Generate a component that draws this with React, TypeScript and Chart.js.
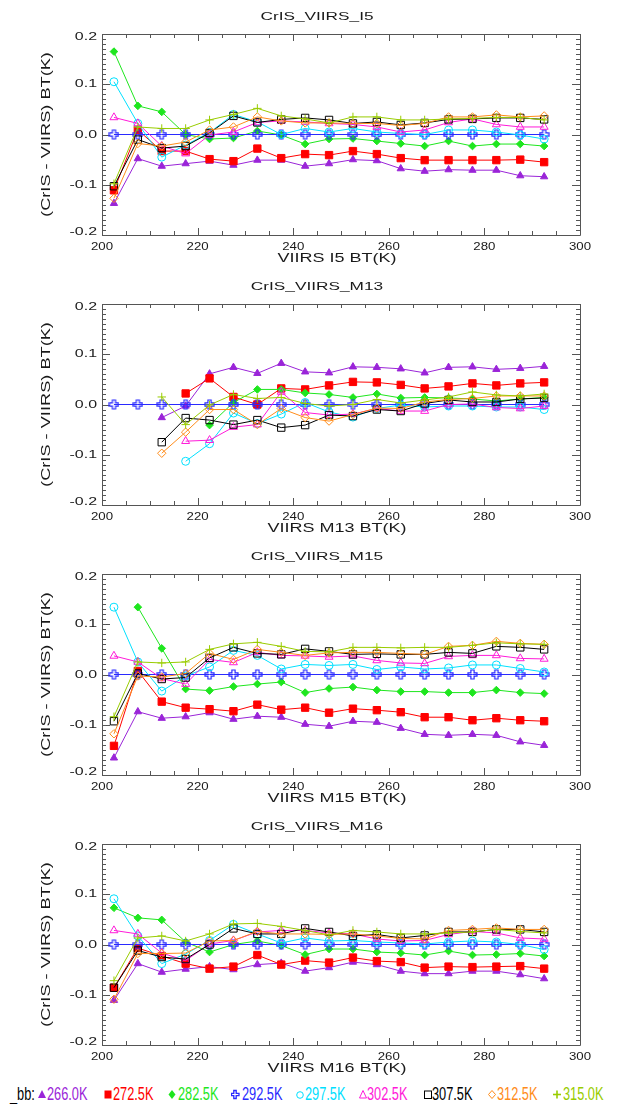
import React, { useEffect, useRef } from 'react';
import { Chart, registerables } from 'chart.js';

Chart.register(...registerables);

// ---------------- DATA ----------------
const BT = [202.5, 207.5, 212.5, 217.5, 222.5, 227.5, 232.5, 237.5, 242.5, 247.5, 252.5, 257.5, 262.5, 267.5, 272.5, 277.5, 282.5, 287.5, 292.5];

const BB_LABELS = ['266.0K', '272.5K', '282.5K', '292.5K', '297.5K', '302.5K', '307.5K', '312.5K', '315.0K'];
const BB_COLORS = ['#9a24d8', '#ff0000', '#1ee61e', '#2a2aff', '#00e0ff', '#ff1ad9', '#000000', '#ff8c1a', '#99cc00'];

const X_TICKS = [200, 220, 240, 260, 280, 300];
const Y_TICKS = [-0.2, -0.1, 0.0, 0.1, 0.2];

const PANEL_TITLES = ['CrIS_VIIRS_I5', 'CrIS_VIIRS_M13', 'CrIS_VIIRS_M15', 'CrIS_VIIRS_M16'];
const X_TITLES = ['VIIRS I5 BT(K)', 'VIIRS M13 BT(K)', 'VIIRS M15 BT(K)', 'VIIRS M16 BT(K)'];
const Y_TITLE = '(CrIS - VIIRS) BT(K)';
const LEGEND_PREFIX = '_bb:';

// I5
const I5_266 = [-0.137, -0.048, -0.063, -0.058, -0.053, -0.061, -0.051, -0.051, -0.063, -0.058, -0.050, -0.052, -0.068, -0.073, -0.070, -0.071, -0.071, -0.082, -0.084];
const I5_272 = [-0.111, 0.009, -0.033, -0.033, -0.049, -0.053, -0.028, -0.047, -0.039, -0.041, -0.033, -0.039, -0.047, -0.051, -0.051, -0.051, -0.051, -0.050, -0.055];
const I5_282 = [0.165, 0.057, 0.045, 0.000, -0.009, -0.007, 0.007, -0.001, -0.019, -0.009, -0.008, -0.013, -0.018, -0.023, -0.013, -0.023, -0.019, -0.019, -0.023];
const I5_292 = [0, 0, 0, 0, 0, 0, 0, 0, 0, 0, 0, 0, 0, 0, 0, 0, 0, 0, 0];
const I5_297 = [0.105, 0.022, -0.045, -0.021, 0.004, 0.040, 0.025, 0.000, 0.012, 0.005, 0.012, 0.005, 0.002, 0.000, 0.009, 0.009, 0.005, -0.001, -0.009];
const I5_302 = [0.034, 0.022, -0.023, -0.038, -0.001, 0.005, 0.024, 0.027, 0.025, 0.022, 0.020, 0.015, 0.005, 0.009, 0.024, 0.031, 0.020, 0.015, 0.015];
const I5_307 = [-0.103, -0.010, -0.027, -0.023, 0.003, 0.037, 0.024, 0.030, 0.033, 0.029, 0.022, 0.025, 0.019, 0.023, 0.030, 0.031, 0.033, 0.033, 0.030];
const I5_312 = [-0.127, -0.018, -0.023, -0.015, 0.009, 0.015, 0.035, 0.027, 0.023, 0.023, 0.022, 0.022, 0.018, 0.022, 0.035, 0.035, 0.039, 0.035, 0.037];
const I5_315 = [-0.098, 0.015, 0.012, 0.012, 0.029, 0.040, 0.052, 0.037, 0.031, 0.023, 0.035, 0.035, 0.029, 0.029, 0.031, 0.032, 0.034, 0.034, 0.029];

// M13
const M13_266 = [null, null, -0.026, -0.003, 0.061, 0.074, 0.062, 0.082, 0.065, 0.063, 0.075, 0.074, 0.071, 0.063, 0.074, 0.075, 0.070, 0.072, 0.076];
const M13_272 = [null, null, null, 0.022, 0.052, 0.015, 0.000, 0.032, 0.030, 0.038, 0.045, 0.044, 0.039, 0.032, 0.036, 0.042, 0.038, 0.042, 0.044];
const M13_282 = [null, null, null, null, -0.041, 0.004, 0.030, 0.030, 0.023, 0.020, 0.014, 0.021, 0.013, 0.014, 0.013, 0.011, 0.007, 0.011, 0.014];
const M13_292 = [0, 0, 0, 0, 0, 0, 0, 0, 0, 0, 0, 0, 0, 0, 0, 0, 0, 0, 0];
const M13_297 = [null, null, null, -0.113, -0.078, -0.017, -0.038, -0.019, 0.004, -0.015, -0.025, -0.008, -0.001, -0.005, -0.003, -0.003, -0.005, -0.005, -0.010];
const M13_302 = [null, null, null, -0.073, -0.071, -0.045, -0.040, 0.025, -0.016, -0.021, -0.019, -0.008, -0.013, -0.013, 0.000, 0.001, -0.006, -0.008, -0.003];
const M13_307 = [null, null, -0.075, -0.027, -0.031, -0.040, -0.031, -0.046, -0.041, -0.021, -0.023, -0.010, -0.013, 0.002, 0.009, 0.005, 0.005, 0.011, 0.013];
const M13_312 = [null, null, -0.097, -0.055, -0.010, -0.010, -0.040, -0.008, -0.026, -0.033, -0.020, -0.007, -0.008, 0.005, 0.010, 0.012, 0.017, 0.017, 0.017];
const M13_315 = [null, null, 0.015, -0.040, -0.001, 0.020, 0.012, 0.014, 0.002, -0.003, 0.000, 0.010, 0.003, 0.009, 0.015, 0.025, 0.019, 0.017, 0.021];

// M15
const M15_266 = [-0.166, -0.074, -0.087, -0.084, -0.076, -0.089, -0.083, -0.085, -0.099, -0.103, -0.093, -0.095, -0.107, -0.119, -0.121, -0.119, -0.121, -0.134, -0.141];
const M15_272 = [-0.142, 0.007, -0.054, -0.066, -0.069, -0.073, -0.060, -0.070, -0.066, -0.076, -0.068, -0.071, -0.075, -0.085, -0.085, -0.091, -0.087, -0.091, -0.093];
const M15_282 = [null, 0.134, 0.052, -0.029, -0.032, -0.024, -0.019, -0.015, -0.036, -0.028, -0.025, -0.031, -0.034, -0.034, -0.036, -0.036, -0.031, -0.036, -0.038];
const M15_292 = [0, 0, 0, 0, 0, 0, 0, 0, 0, 0, 0, 0, 0, 0, 0, 0, 0, 0, 0];
const M15_297 = [0.134, 0.025, -0.033, -0.003, 0.015, 0.048, 0.038, 0.011, 0.020, 0.018, 0.020, 0.010, 0.015, 0.011, 0.013, 0.019, 0.019, 0.012, 0.005];
const M15_302 = [0.037, 0.025, -0.008, -0.019, 0.030, 0.024, 0.044, 0.038, 0.037, 0.035, 0.037, 0.028, 0.023, 0.022, 0.036, 0.038, 0.038, 0.032, 0.031];
const M15_307 = [-0.093, 0.002, -0.009, -0.006, 0.033, 0.054, 0.042, 0.040, 0.051, 0.046, 0.040, 0.041, 0.040, 0.040, 0.044, 0.042, 0.056, 0.054, 0.050];
const M15_312 = [-0.118, -0.003, -0.005, 0.002, 0.042, 0.030, 0.050, 0.044, 0.038, 0.043, 0.044, 0.044, 0.042, 0.040, 0.056, 0.058, 0.066, 0.062, 0.060];
const M15_315 = [-0.084, 0.025, 0.023, 0.025, 0.050, 0.061, 0.064, 0.056, 0.046, 0.045, 0.054, 0.054, 0.053, 0.054, 0.054, 0.058, 0.063, 0.061, 0.060];

// M16
const M16_266 = [-0.111, -0.038, -0.055, -0.049, -0.044, -0.050, -0.040, -0.037, -0.053, -0.046, -0.035, -0.040, -0.053, -0.058, -0.058, -0.053, -0.053, -0.060, -0.068];
const M16_272 = [-0.086, -0.007, -0.023, -0.038, -0.048, -0.044, -0.021, -0.040, -0.032, -0.036, -0.026, -0.033, -0.035, -0.046, -0.044, -0.045, -0.044, -0.043, -0.048];
const M16_282 = [0.073, 0.053, 0.049, 0.005, -0.015, 0.000, 0.007, -0.002, -0.020, -0.009, -0.009, -0.015, -0.017, -0.021, -0.013, -0.021, -0.020, -0.018, -0.023];
const M16_292 = [0, 0, 0, 0, 0, 0, 0, 0, 0, 0, 0, 0, 0, 0, 0, 0, 0, 0, 0];
const M16_297 = [0.091, 0.017, -0.038, -0.019, 0.008, 0.040, 0.021, 0.003, 0.013, 0.007, 0.008, 0.005, 0.003, 0.001, 0.005, 0.007, 0.005, 0.000, -0.010];
const M16_302 = [0.028, 0.021, -0.017, -0.032, 0.001, 0.008, 0.025, 0.028, 0.028, 0.023, 0.021, 0.011, 0.007, 0.008, 0.020, 0.026, 0.023, 0.013, 0.011];
const M16_307 = [-0.086, -0.012, -0.025, -0.029, 0.000, 0.032, 0.021, 0.021, 0.032, 0.025, 0.017, 0.020, 0.013, 0.018, 0.025, 0.025, 0.030, 0.030, 0.025];
const M16_312 = [-0.109, -0.018, -0.018, -0.017, 0.007, 0.008, 0.026, 0.021, 0.021, 0.020, 0.021, 0.017, 0.012, 0.011, 0.028, 0.030, 0.033, 0.030, 0.030];
const M16_315 = [-0.072, 0.013, 0.017, 0.007, 0.021, 0.041, 0.042, 0.036, 0.028, 0.019, 0.028, 0.025, 0.021, 0.021, 0.023, 0.025, 0.030, 0.026, 0.023];

const PANEL_SERIES = [
  [I5_266, I5_272, I5_282, I5_292, I5_297, I5_302, I5_307, I5_312, I5_315],
  [M13_266, M13_272, M13_282, M13_292, M13_297, M13_302, M13_307, M13_312, M13_315],
  [M15_266, M15_272, M15_282, M15_292, M15_297, M15_302, M15_307, M15_312, M15_315],
  [M16_266, M16_272, M16_282, M16_292, M16_297, M16_302, M16_307, M16_312, M16_315],
];

// ---------------- STYLE ----------------
const W = 619;
const PANEL_H = 270;
const FONT = '"Liberation Sans", Arial, Helvetica, sans-serif';
const AXIS_COLOR = '#555555';
const TEXT_COLOR = '#1a1a1a';

function makeOutlinedPlus(color: string) {
  const c = document.createElement('canvas');
  c.width = 11;
  c.height = 11;
  const g = c.getContext('2d')!;
  g.strokeStyle = color;
  g.lineWidth = 1.2;
  const cx = 5.5, cy = 5.5, a = 4.5, b = 1.6;
  const pts = [
    [cx - b, cy - a], [cx + b, cy - a], [cx + b, cy - b], [cx + a, cy - b],
    [cx + a, cy + b], [cx + b, cy + b], [cx + b, cy + a], [cx - b, cy + a],
    [cx - b, cy + b], [cx - a, cy + b], [cx - a, cy - b], [cx - b, cy - b],
  ];
  g.beginPath();
  pts.forEach(([x, y], i) => (i === 0 ? g.moveTo(x, y) : g.lineTo(x, y)));
  g.closePath();
  g.stroke();
  return c;
}

type MarkerDef = { style: any; radius: number; filled: boolean };
function markerDefs(): MarkerDef[] {
  return [
    { style: 'triangle', radius: 4.2, filled: true },
    { style: 'rect', radius: 5.2, filled: true },
    { style: 'rectRot', radius: 3.8, filled: true },
    { style: makeOutlinedPlus(BB_COLORS[3]), radius: 5, filled: false },
    { style: 'circle', radius: 4, filled: false },
    { style: 'triangle', radius: 4.6, filled: false },
    { style: 'rect', radius: 5.2, filled: false },
    { style: 'rectRot', radius: 4.2, filled: false },
    { style: 'cross', radius: 4.2, filled: false },
  ];
}

function stretchedText(ctx: CanvasRenderingContext2D, text: string, x: number, y: number, sx: number, align: CanvasTextAlign) {
  ctx.save();
  ctx.translate(x, y);
  ctx.scale(sx, 1);
  ctx.textAlign = align;
  ctx.fillText(text, 0, 0);
  ctx.restore();
}

function makeFramePlugin(panel: number) {
  return {
    id: 'idlFrame' + panel,
    beforeDatasetsDraw(chart: any) {
      const { ctx, chartArea } = chart;
      const { left, right, top, bottom } = chartArea;
      const xs = chart.scales.x;
      const ys = chart.scales.y;
      ctx.save();
      ctx.strokeStyle = AXIS_COLOR;
      ctx.lineWidth = 1;
      ctx.beginPath();
      ctx.rect(Math.round(left) + 0.5, Math.round(top) + 0.5, Math.round(right - left), Math.round(bottom - top));
      ctx.stroke();
      ctx.beginPath();
      for (let k = 0; k <= 20; k++) {
        const v = 200 + k * 5;
        const px = Math.round(xs.getPixelForValue(v)) + 0.5;
        const len = k % 4 === 0 ? 7 : 4;
        ctx.moveTo(px, bottom);
        ctx.lineTo(px, bottom - len);
        ctx.moveTo(px, top);
        ctx.lineTo(px, top + len);
      }
      for (let k = -20; k <= 20; k++) {
        const v = k / 100;
        const py = Math.round(ys.getPixelForValue(v)) + 0.5;
        const len = k % 10 === 0 ? 8 : 4;
        ctx.moveTo(left, py);
        ctx.lineTo(left + len, py);
        ctx.moveTo(right, py);
        ctx.lineTo(right - len, py);
      }
      ctx.stroke();
      ctx.restore();
    },
    afterDraw(chart: any) {
      const { ctx, chartArea } = chart;
      const { left, right, top, bottom } = chartArea;
      const xs = chart.scales.x;
      const ys = chart.scales.y;
      ctx.save();
      ctx.fillStyle = TEXT_COLOR;
      ctx.textBaseline = 'alphabetic';
      ctx.font = `11.5px ${FONT}`;
      stretchedText(ctx, PANEL_TITLES[panel], 317, 20, 1.5, 'center');
      ctx.font = `11.5px ${FONT}`;
      xs.ticks.forEach((t: any) => {
        const px = xs.getPixelForValue(t.value);
        stretchedText(ctx, String(Math.round(t.value)), px, bottom + 15, 1.15, 'center');
      });
      ctx.font = `11px ${FONT}`;
      ctx.textBaseline = 'middle';
      ys.ticks.forEach((t: any) => {
        let py = ys.getPixelForValue(t.value);
        py = Math.min(Math.max(py, top + 3), bottom - 3);
        const v = Math.abs(t.value) < 1e-9 ? 0 : t.value;
        stretchedText(ctx, v.toFixed(1), left - 5, py, 1.45, 'right');
      });
      ctx.textBaseline = 'alphabetic';
      ctx.font = `12px ${FONT}`;
      stretchedText(ctx, X_TITLES[panel], (left + right) / 2 - 4, bottom + 27, 1.5, 'center');
      ctx.save();
      ctx.translate(46, (top + bottom) / 2);
      ctx.rotate(-Math.PI / 2);
      ctx.scale(1.4, 1);
      ctx.font = `13px ${FONT}`;
      ctx.textAlign = 'center';
      ctx.textBaseline = 'middle';
      ctx.fillText(Y_TITLE, 0, 0);
      ctx.restore();
      ctx.restore();
    },
  };
}

function Panel({ index }: { index: number }) {
  const ref = useRef<HTMLCanvasElement>(null);
  useEffect(() => {
    const markers = markerDefs();
    const datasets = PANEL_SERIES[index].map((vals, i) => {
      const c = BB_COLORS[i];
      const m = markers[i];
      return {
        label: BB_LABELS[i],
        data: BT.map((x, j) => ({ x, y: vals[j] })),
        borderColor: c,
        backgroundColor: c,
        borderWidth: 1,
        pointStyle: m.style,
        pointRadius: m.radius,
        pointBorderWidth: 1,
        pointBorderColor: c,
        pointBackgroundColor: m.filled ? c : 'rgba(0,0,0,0)',
        tension: 0,
        spanGaps: false,
        order: -i,
      };
    });
    const chart = new Chart(ref.current!, {
      type: 'line',
      data: { datasets } as any,
      options: {
        animation: false,
        responsive: false,
        maintainAspectRatio: false,
        events: [],
        layout: { padding: { top: 34, right: 39, left: 0, bottom: 0 } },
        plugins: {
          legend: { display: false },
          title: { display: false },
          tooltip: { enabled: false },
        },
        scales: {
          x: {
            type: 'linear',
            min: X_TICKS[0],
            max: X_TICKS[X_TICKS.length - 1],
            ticks: { display: false, stepSize: 20 },
            grid: { display: false },
            border: { display: false },
            afterFit: (s: any) => { s.height = 35; },
          },
          y: {
            type: 'linear',
            min: Y_TICKS[0],
            max: Y_TICKS[Y_TICKS.length - 1],
            ticks: { display: false, stepSize: 0.1 },
            grid: { display: false },
            border: { display: false },
            afterFit: (s: any) => { s.width = 102; },
          },
        },
      } as any,
      plugins: [makeFramePlugin(index)],
    });
    return () => chart.destroy();
  }, [index]);
  return (
    <canvas
      ref={ref}
      width={W}
      height={PANEL_H}
      style={{ position: 'absolute', left: 0, top: index * PANEL_H, width: W, height: PANEL_H, display: 'block' }}
    />
  );
}

function LegendMarker({ i, x }: { i: number; x: number }) {
  const c = BB_COLORS[i];
  let shape: React.ReactNode = null;
  switch (i) {
    case 0: shape = <polygon points="4,1 8,9 0,9" fill={c} />; break;
    case 1: shape = <rect x={0.5} y={1.5} width={7} height={8} fill={c} />; break;
    case 2: shape = <polygon points="4,1 7.5,5.5 4,10 0.5,5.5" fill={c} />; break;
    case 3: shape = <polygon points="2.8,1.5 5.2,1.5 5.2,4.3 8,4.3 8,6.7 5.2,6.7 5.2,9.5 2.8,9.5 2.8,6.7 0.5,6.7 0.5,4.3 2.8,4.3" fill="none" stroke={c} strokeWidth={1.3} />; break;
    case 4: shape = <circle cx={4} cy={6} r={3.3} fill="none" stroke={c} strokeWidth={1} />; break;
    case 5: shape = <polygon points="4,1.5 7.5,9 0.5,9" fill="none" stroke={c} strokeWidth={1} />; break;
    case 6: shape = <rect x={0.5} y={2} width={7} height={7.5} fill="none" stroke={c} strokeWidth={1} />; break;
    case 7: shape = <polygon points="4,1.5 7.5,5.5 4,9.5 0.5,5.5" fill="none" stroke={c} strokeWidth={1} />; break;
    case 8: shape = <g stroke={c} strokeWidth={1.6}><line x1={4} y1={1.5} x2={4} y2={9.5} /><line x1={0} y1={5.5} x2={8} y2={5.5} /></g>; break;
  }
  return (
    <svg width={9} height={11} style={{ position: 'absolute', left: x, top: 1089 }}>
      {shape}
    </svg>
  );
}

const LEGEND_MARK_X = [38, 104, 168, 231, 296, 359, 424, 488, 553];
const LEGEND_TEXT_X = [47, 113, 178, 242, 305, 367, 432, 497, 563];

function Legend() {
  const textStyle = (x: number, color: string): React.CSSProperties => ({
    position: 'absolute',
    left: x,
    top: 1085,
    fontFamily: FONT,
    fontSize: 18,
    lineHeight: '18px',
    color,
    whiteSpace: 'nowrap',
    transform: 'scaleX(0.71)',
    transformOrigin: '0 0',
  });
  return (
    <>
      <span style={textStyle(10, '#000')}>{LEGEND_PREFIX}</span>
      {BB_LABELS.map((lab, i) => (
        <React.Fragment key={lab}>
          <LegendMarker i={i} x={LEGEND_MARK_X[i]} />
          <span style={textStyle(LEGEND_TEXT_X[i], BB_COLORS[i])}>{lab}</span>
        </React.Fragment>
      ))}
    </>
  );
}

export default function App() {
  return (
    <div style={{ position: 'absolute', left: 0, top: 0, width: W, height: 1104, background: '#fff' }}>
      {[0, 1, 2, 3].map((i) => (
        <Panel key={i} index={i} />
      ))}
      <Legend />
    </div>
  );
}
